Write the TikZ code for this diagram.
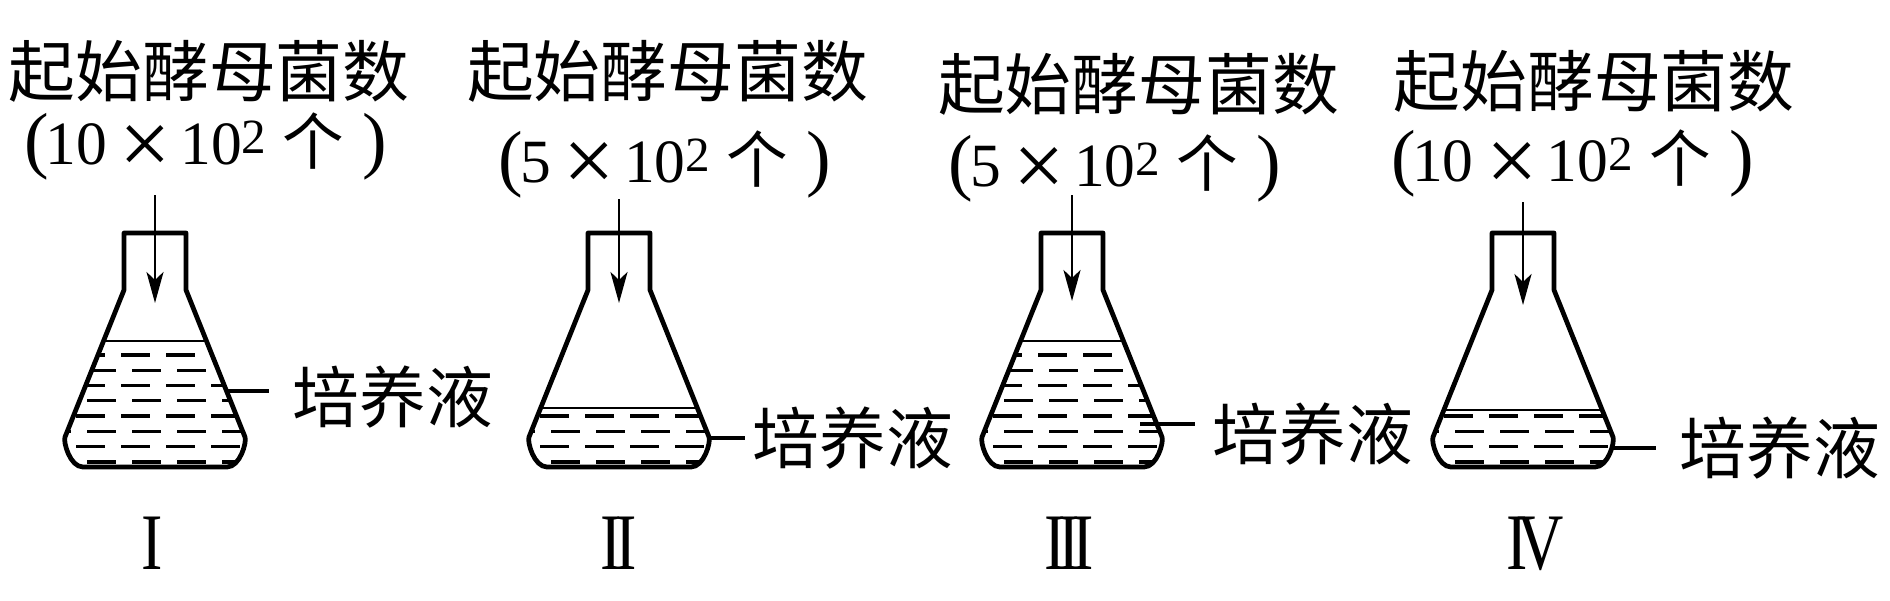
\documentclass[tikz,border=0pt]{standalone}
\usepackage{fontspec}
\setmainfont{Liberation Serif}
\newfontfamily\cjk{Noto Sans CJK SC}
\usetikzlibrary{arrows.meta}
\newcommand\startcount[1]{{\fontsize{21pt}{21pt}\selectfont(}\kern-1pt#1\hspace{3.6pt}\raisebox{-2.8pt}{\fontsize{26pt}{26pt}\selectfont ×}\hspace{2.6pt}10\raisebox{3pt}{\fontsize{14pt}{14pt}\selectfont 2}\hspace{4.6pt}{\cjk 个}\hspace{5.3pt}{\fontsize{21pt}{21pt}\selectfont)}}
\newcommand\flasknum[1]{\scalebox{0.8}[1]{#1}}
\tikzset{
  glass/.style={line width=1.35pt, line join=round},
  feed/.style={line width=0.8pt, -{Stealth[length=3.1mm, width=1.7mm, inset=0.8mm]}},
  broth/.style={line width=0.95pt},
  surface/.style={line width=0.85pt},
  lead/.style={line width=0.95pt},
  heading/.style={inner sep=0pt, font=\cjk\fontsize{19pt}{19pt}\selectfont},
  amount/.style={inner sep=0pt, font=\fontsize{17.5pt}{17.5pt}\selectfont},
  medium/.style={inner sep=0pt, anchor=west, font=\cjk\fontsize{19pt}{19pt}\selectfont},
  numeral/.style={inner sep=0pt, font=\fontsize{22.8pt}{22.8pt}\selectfont}
}

\begin{document}
\begin{tikzpicture}[x=0.1mm, y=-0.1mm]
\path [use as bounding box, fill=white] (0,0) rectangle (1890,600);
% flasks with broth
\foreach \cx/\lv in {155/341, 619/408, 1072/341, 1523/410} {
  \begin{scope}[shift={(\cx,0)}]
    \begin{scope}
      \clip (-31,233) -- (-31,290) -- (-90,437) .. controls (-92,442) and (-85,467) .. (-72,467) -- (72,467) .. controls (85,467) and (92,442) .. (90,437) -- (31,290) -- (31,233) -- cycle;
      \draw[surface] (-100,\lv) -- (100,\lv);
      \clip (-100,\lv) rectangle (100,480);
      \foreach \k in {0,...,7} {
        \pgfmathsetmacro\ry{462-15.3*\k}
        \pgfmathsetmacro\sh{(1-mod(\k,2))*11}
        \foreach \j in {-1,...,3}
          \draw[broth] ({\sh-79+45*\j},\ry) -- ++(29,0);
      }
    \end{scope}
    \draw[glass] (-31,233) -- (-31,290) -- (-90,437) .. controls (-92,442) and (-85,467) .. (-72,467) -- (72,467) .. controls (85,467) and (92,442) .. (90,437) -- (31,290) -- (31,233) -- cycle;
  \end{scope}
}
% headings
\node[heading] (h1) at (209,71) {起始酵母菌数};
\node[amount] (n1) at (206,146.5) {\startcount{10}};
\node[heading] (h2) at (667.5,71) {起始酵母菌数};
\node[amount] (n2) at (665,164) {\startcount{5}};
\node[heading] (h3) at (1138.5,84) {起始酵母菌数};
\node[amount] (n3) at (1115,168.5) {\startcount{5}};
\node[heading] (h4) at (1594,81) {起始酵母菌数};
\node[amount] (n4) at (1572.5,163.5) {\startcount{10}};
% feeding arrows
\coordinate (s1) at (155,195); \coordinate (p1) at (155,303);
\coordinate (s2) at (619,199); \coordinate (p2) at (619,303);
\coordinate (s3) at (1072,195); \coordinate (p3) at (1072,301);
\coordinate (s4) at (1523,202); \coordinate (p4) at (1523,305);
\draw[feed] (s1) -- (p1);
\draw[feed] (s2) -- (p2);
\draw[feed] (s3) -- (p3);
\draw[feed] (s4) -- (p4);
% broth labels
\coordinate (e1) at (227,391); \coordinate (t1) at (269,391);
\coordinate (e2) at (709,438); \coordinate (t2) at (745,438);
\coordinate (e3) at (1140,424); \coordinate (t3) at (1195,424);
\coordinate (e4) at (1613,448); \coordinate (t4) at (1656,448);
\draw[lead] (e1) -- (t1);
\draw[lead] (e2) -- (t2);
\draw[lead] (e3) -- (t3);
\draw[lead] (e4) -- (t4);
\node[medium] (m1) at (292,397) {培养液};
\node[medium] (m2) at (752,438.5) {培养液};
\node[medium] (m3) at (1212,434.5) {培养液};
\node[medium] (m4) at (1679,448.5) {培养液};
% flask numbers
\node[numeral] (r1) at (152.5,543.5) {\flasknum{I}};
\node[numeral] (r2) at (619,543.5) {\flasknum{I\kern-0.1em I}};
\node[numeral] (r3) at (1069,543.5) {\flasknum{I\kern-0.12em I\kern-0.12em I}};
\node[numeral] (r4) at (1535,543.5) {\flasknum{I\kern-0.17em V}};
\end{tikzpicture}
\end{document}
